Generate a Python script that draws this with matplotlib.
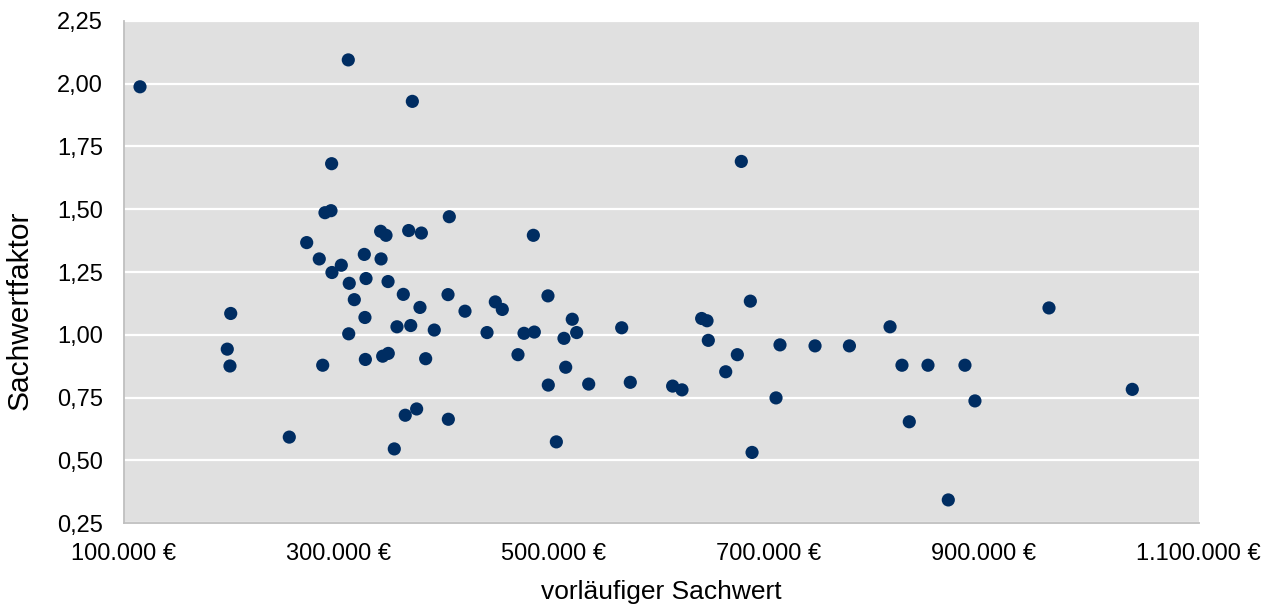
import matplotlib
matplotlib.use("Agg")
import matplotlib.pyplot as plt
from matplotlib.ticker import FuncFormatter, MultipleLocator

plt.rcParams['font.family'] = ['Liberation Sans', 'DejaVu Sans']

# vorläufiger Sachwert (EUR) and the corresponding Sachwertfaktor
sachwert = [
    114900, 199300, 196100, 198600, 253800, 270000, 281700, 284900, 287000,
    292600, 293200, 293500, 302200, 308700, 309100, 309600, 314300, 323600,
    324200, 324600, 325200, 338800, 339200, 340700, 343800, 345700, 345900,
    351500, 354000, 359900, 361700, 364900, 366800, 368300, 372300, 375400,
    376700, 380700, 388700, 401500, 401800, 402700, 417300, 437800, 445500,
    452000, 466600, 472200, 480900, 481800, 494500, 494800, 502300, 509400,
    511000, 517100, 521200, 532400, 563100, 571100, 610500, 619200, 637500,
    642500, 643700, 659900, 670700, 674400, 682800, 684400, 706700, 710400,
    743000, 775000, 812800, 823900, 830700, 848100, 867000, 882500, 891800,
    960700, 1038200,
]
sachwertfaktor = [
    1.987, 1.085, 0.943, 0.876, 0.593, 1.367, 1.302, 0.879, 1.486,
    1.494, 1.681, 1.248, 1.277, 2.094, 1.004, 1.205, 1.140, 1.320,
    1.069, 0.902, 1.224, 1.412, 1.302, 0.915, 1.396, 1.212, 0.926,
    0.546, 1.032, 1.161, 0.680, 1.415, 1.037, 1.929, 0.705, 1.109,
    1.405, 0.905, 1.019, 1.160, 0.664, 1.470, 1.094, 1.009, 1.131,
    1.101, 0.921, 1.006, 1.396, 1.011, 1.155, 0.800, 0.574, 0.986,
    0.871, 1.062, 1.009, 0.804, 1.028, 0.811, 0.796, 0.781, 1.065,
    1.056, 0.978, 0.853, 0.921, 1.690, 1.134, 0.532, 0.749, 0.960,
    0.956, 0.956, 1.032, 0.879, 0.654, 0.879, 0.343, 0.879, 0.737,
    1.107, 0.783,
]

x_ticks = [100000, 300000, 500000, 700000, 900000, 1100000]
y_range = (0.25, 2.25)

W, H = 1274, 606
fig = plt.figure(figsize=(W / 100, H / 100), dpi=100)
ax = fig.add_axes([124 / W, 1 - 523.3 / H, (1198.7 - 124) / W, (523.3 - 20.7) / H])

ax.set_facecolor('#E0E0E0')
ax.scatter(sachwert, sachwertfaktor, s=90, color='#002D62', edgecolors='none', zorder=3)

ax.set_xlim(x_ticks[0], x_ticks[-1])
ax.set_ylim(*y_range)
ax.set_xticks(x_ticks)
ax.yaxis.set_major_locator(MultipleLocator(0.25))


def euro(v, _):
    return f"{int(round(v)):,} €".replace(",", ".")


def decimal_comma(v, _):
    return f"{v:.2f}".replace(".", ",")


ax.xaxis.set_major_formatter(FuncFormatter(euro))
ax.yaxis.set_major_formatter(FuncFormatter(decimal_comma))

ax.grid(axis='y', color='white', linewidth=1.6, zorder=1)
ax.grid(axis='x', visible=False)
ax.set_axisbelow(True)

for side in ('top', 'right'):
    ax.spines[side].set_visible(False)
for side in ('left', 'bottom'):
    ax.spines[side].set_color('#BFBFBF')
    ax.spines[side].set_linewidth(1.3)

ax.tick_params(axis='both', length=0, labelsize=17, colors='#000000')
ax.tick_params(axis='y', pad=15)
ax.tick_params(axis='x', pad=14)

ax.set_xlabel('vorläufiger Sachwert', fontsize=19)
ax.xaxis.label.set_va('center')
ax.xaxis.set_label_coords(0.5, (523.3 - 592) / (523.3 - 20.7))

ax.set_ylabel('Sachwertfaktor', fontsize=21.5)
ax.yaxis.label.set_va('center')
ax.yaxis.set_label_coords((20 - 124) / (1198.7 - 124), (523.3 - 310) / (523.3 - 20.7))

fig.savefig('out.png', dpi=100, facecolor='white')
